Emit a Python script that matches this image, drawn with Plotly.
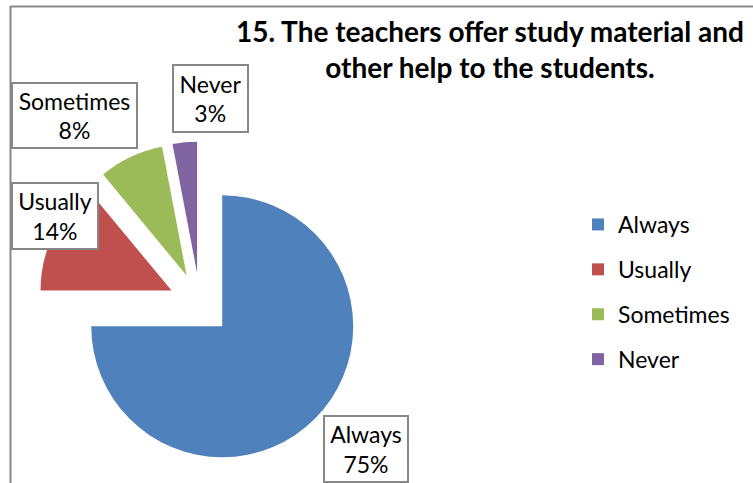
import plotly.graph_objects as go

# survey answers, question 15
labels = ["Always", "Usually", "Sometimes", "Never"]
values = [75, 14, 8, 3]
colors = ["#4F81BD", "#C0504D", "#9BBB59", "#8064A2"]
title = "15. The teachers offer study material and<br>other help to the students."

W, H = 753, 483
FONT = "Lato"

fig = go.Figure()

fig.add_trace(go.Pie(
    labels=labels, values=values, sort=False, direction="clockwise", rotation=0,
    pull=[0.24] * len(values), marker=dict(colors=colors, line=dict(width=0)),
    textinfo="none", showlegend=False,
    domain=dict(x=[37.56 / W, 362.44 / W], y=[1 - 466.44 / H, 1 - 141.56 / H]),
))

# legend entries (own groups so the spacing can be set)
for lab, col in zip(labels, colors):
    fig.add_trace(go.Scatter(
        x=[None], y=[None], mode="markers", name=lab, legendgroup=lab,
        marker=dict(symbol="square", size=12, color=col),
    ))

# data label boxes: centre x, centre y, width, height (px)
boxes = {
    "Always": (366, 449, 86, 68),
    "Usually": (55, 216, 88, 68),
    "Sometimes": (74.5, 115.5, 127, 67),
    "Never": (210.5, 98.5, 77, 69),
}
for lab, val in zip(labels, values):
    cx, cy, bw, bh = boxes[lab]
    fig.add_annotation(
        text=f"{lab}<br>{val}%", xref="paper", yref="paper",
        x=cx / W, y=1 - cy / H, xanchor="center", yanchor="middle",
        width=bw - 4, height=bh - 4, borderpad=0, borderwidth=2,
        bordercolor="#878787", bgcolor="white", showarrow=False,
        font=dict(family=FONT, size=23, color="black"),
    )

# chart title
fig.add_annotation(
    text=f"<b>{title}</b>", xref="paper", yref="paper",
    x=490 / W, y=1 - 49 / H, xanchor="center", yanchor="middle",
    showarrow=False, font=dict(family=FONT, size=28, color="black"),
)

# chart area border (left and top edges visible)
fig.add_shape(type="line", xref="paper", yref="paper",
              x0=10.5 / W, x1=10.5 / W, y0=0, y1=1 - 6 / H,
              line=dict(color="#878787", width=2))
fig.add_shape(type="line", xref="paper", yref="paper",
              x0=10.5 / W, x1=1, y0=1 - 6.5 / H, y1=1 - 6.5 / H,
              line=dict(color="#878787", width=2))

fig.update_layout(
    width=W, height=H,
    margin=dict(l=0, r=0, t=0, b=0),
    paper_bgcolor="white", plot_bgcolor="white",
    font=dict(family=FONT, color="black"),
    xaxis=dict(visible=False), yaxis=dict(visible=False),
    legend=dict(x=578 / W, xanchor="left", y=1 - 203 / H, yanchor="top",
                font=dict(family=FONT, size=23, color="black"),
                tracegroupgap=12, bgcolor="rgba(0,0,0,0)"),
)

fig.write_html("out.html", config={"displayModeBar": False},
               post_script="document.body.style.margin='0';")
